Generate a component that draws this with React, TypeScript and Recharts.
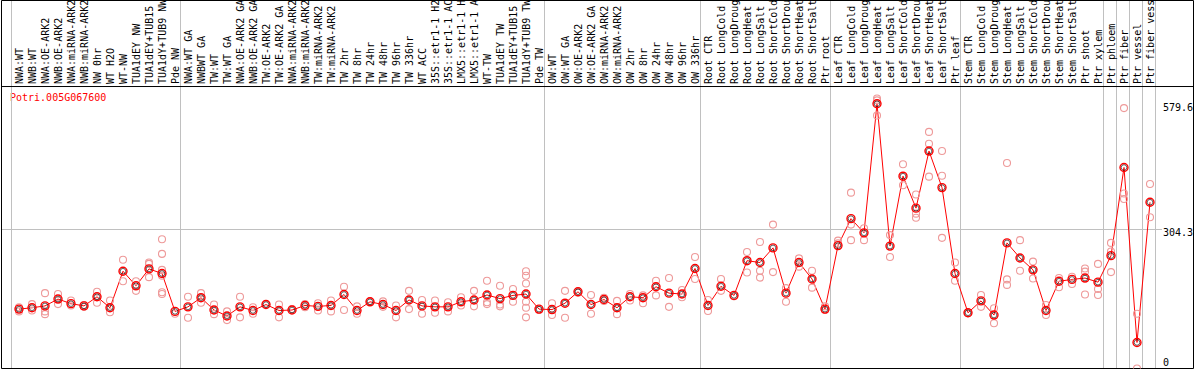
import { ComposedChart, Line, Scatter, XAxis, YAxis, ReferenceLine } from 'recharts'

const MONO = '"DejaVu Sans Mono", "Liberation Mono", monospace'

const GENE = 'Potri.005G067600'

const LABELS = [
  'NWA:WT', 'NWB:WT', 'NWA:OE-ARK2', 'NWB:OE-ARK2', 'NWA:miRNA-ARK2', 'NWB:miRNA-ARK2',
  'NW 0hr', 'WT H2O', 'WT-NW', 'TUA1dEY NW', 'TUA1dEY+TUB15 NW', 'TUA1dY+TUB9 NW', 'Pde NW',
  'NWA:WT GA', 'NWBWT GA', 'TW:WT', 'TW:WT GA', 'NWA:OE-ARK2 GA', 'NWB:OE-ARK2 GA',
  'TW:OE-ARK2', 'TW:OE-ARK2 GA', 'NWA:miRNA-ARK2 GA', 'NWB:miRNA-ARK2 GA', 'TW:miRNA-ARK2',
  'TW:miRNA-ARK2 GA', 'TW 2hr', 'TW 8hr', 'TW 24hr', 'TW 48hr', 'TW 96hr', 'TW 336hr',
  'WT ACC', '35S::etr1-1 H2O', '35S::etr1-1 ACC', 'LMX5::etr1-1 H2O', 'LMX5::etr1-1 ACC',
  'WT-TW', 'TUA1dEY TW', 'TUA1dEY+TUB15 TW', 'TUA1dY+TUB9 TW', 'Pde TW',
  'OW:WT', 'OW:WT GA', 'OW:OE-ARK2', 'OW:OE-ARK2 GA', 'OW:miRNA-ARK2', 'OW:miRNA-ARK2 GA',
  'OW 2hr', 'OW 8hr', 'OW 24hr', 'OW 48hr', 'OW 96hr', 'OW 336hr',
  'Root CTR', 'Root LongCold', 'Root LongDrought', 'Root LongHeat', 'Root LongSalt',
  'Root ShortCold', 'Root ShortDrought', 'Root ShortHeat', 'Root ShortSalt', 'Ptr root',
  'Leaf CTR', 'Leaf LongCold', 'Leaf LongDrought', 'Leaf LongHeat', 'Leaf LongSalt',
  'Leaf ShortCold', 'Leaf ShortDrought', 'Leaf ShortHeat', 'Leaf ShortSalt', 'Ptr leaf',
  'Stem CTR', 'Stem LongCold', 'Stem LongDrought', 'Stem LongHeat', 'Stem LongSalt',
  'Stem ShortCold', 'Stem ShortDrought', 'Stem ShortHeat', 'Stem ShortSalt', 'Ptr shoot',
  'Ptr xylem', 'Ptr phloem', 'Ptr fiber', 'Ptr vessel', 'Ptr fiber vessel',
]

const MEANS = [
  130, 133, 137, 152, 142, 137, 157, 133, 213, 181, 218, 208, 125,
  135, 155, 128, 115, 135, 127, 140, 127, 128, 138, 136, 138, 162, 127, 146, 140, 127,
  150, 137, 135, 135, 146, 150, 161, 153, 160, 163, 130,
  129, 143, 168, 140, 151, 133, 157, 155, 179, 165, 163, 219,
  138, 180, 160, 236, 232, 264, 165, 232, 196, 130,
  269, 328, 297, 579.6, 268, 421, 351, 476, 396, 208,
  122, 148, 117, 275, 242, 216, 127, 191, 195, 198, 189,
  247, 440, 57, 364,
]

// replicate samples per condition
const REPS = [
  [125, 134], [141, 127], [165, 125, 119], [163, 141], [149, 138], [139, 135], [168, 144],
  [149, 123], [238, 191], [191, 170], [232, 229, 200], [283, 251, 216, 203, 167, 163], [120],
  [157, 111], [165, 144], [140, 119], [125, 106], [157, 112], [134, 120], [141], [140, 112],
  [130], [141, 134], [143, 127], [149, 125], [179, 128], [136, 120], [147], [147, 135],
  [138, 112], [170, 130], [150, 120], [149, 122], [145, 125], [156, 138], [170, 136],
  [192, 145, 141], [181, 140, 136], [174, 146], [213, 203, 186, 146, 133, 112], [128],
  [143, 117], [170, 111], [166], [161, 120], [155, 148], [148, 119], [163, 149], [160, 143],
  [192, 160], [198, 135], [172, 156], [244, 196],
  [150, 126], [196, 170], [158], [255, 210], [277, 214, 199], [315, 211], [176, 146],
  [241, 223], [214, 177], [136, 128],
  [280, 274], [385, 315, 281], [307, 281], [591, 587, 554], [292, 244], [447, 401],
  [381, 339, 330], [518, 492, 420], [476, 422, 286], [232, 192],
  [121], [161, 135], [132, 99], [450, 195, 183], [281, 214], [234, 197], [139, 117],
  [198, 178], [201, 185], [219, 212, 162], [229, 174, 161],
  [275, 256, 211], [570, 383, 371], [120, 0], [404, 331],
]

const Y_TICKS = [0, 304.3, 579.6]

// last column of each block (-1 = left edge of first block)
const BLOCK_ENDS = [-1, 12, 40, 52, 62, 72, 83, 84, 85, 86, 87]

const X_DOMAIN: [number, number] = [-1.34615, 90.34615]
const Y_MAX = 805.6
const HEADER_Y = 617.3

const meanRows = MEANS.map((v, i) => ({ x: i, v }))
const repRows = REPS.flatMap((vals, i) => vals.map((v) => ({ x: i, v })))

const HeaderTick = (props: any) => {
  const { x, payload } = props
  const bx = x + 4
  return (
    <text
      x={bx}
      y={84}
      transform={`rotate(-90 ${bx} 84)`}
      fontSize={10}
      fontFamily={MONO}
      fill="#000"
    >
      {LABELS[payload.value]}
    </text>
  )
}

const ValueTick = (props: any) => {
  const { y, payload } = props
  const v = payload.value as number
  return (
    <text x={1163} y={v === 0 ? y - 2.5 : y + 7} fontSize={10} fontFamily={MONO} fill="#000">
      {v === 0 ? '0' : v.toFixed(1)}
    </text>
  )
}

const MeanDot = (props: any) => {
  const { cx, cy, index } = props
  if (cx == null || cy == null) return <g key={index} />
  return (
    <g key={index}>
      <circle cx={cx} cy={cy} r={4} fill="none" stroke="#ff0000" strokeWidth={1.4} />
      <circle cx={cx} cy={cy} r={2.8} fill="none" stroke="#000" strokeWidth={0.6} />
    </g>
  )
}

const RepDot = (props: any) => {
  const { cx, cy } = props
  return <circle cx={cx} cy={cy} r={3.5} fill="none" stroke="#ee9a9a" strokeWidth={1.1} />
}

export default function App() {
  return (
    <div style={{ position: 'absolute', left: 0, top: 0, width: 1194, height: 370, background: '#fff' }}>
      <ComposedChart
        width={1194}
        height={370}
        data={meanRows}
        margin={{ top: -0.5, right: -0.5, bottom: 1.5, left: 1.5 }}
      >
        <XAxis
          dataKey="x"
          type="number"
          orientation="top"
          domain={X_DOMAIN}
          allowDataOverflow
          ticks={LABELS.map((_, i) => i)}
          interval={0}
          height={1}
          axisLine={false}
          tickLine={false}
          tick={HeaderTick}
        />
        <YAxis
          type="number"
          orientation="right"
          domain={[0, Y_MAX]}
          allowDataOverflow
          ticks={Y_TICKS}
          interval={0}
          width={1}
          axisLine={false}
          tickLine={false}
          tick={ValueTick}
        />
        {BLOCK_ENDS.map((k) => (
          <ReferenceLine key={k} x={k + 0.423} stroke="#c0c0c0" strokeWidth={1} ifOverflow="visible" />
        ))}
        <ReferenceLine
          segment={[{ x: X_DOMAIN[0], y: 304.3 }, { x: 87.92, y: 304.3 }]}
          stroke="#c0c0c0"
          strokeWidth={1}
          ifOverflow="visible"
        />
        <ReferenceLine y={HEADER_Y} stroke="#000" strokeWidth={1} ifOverflow="visible" />
        <ReferenceLine y={0} stroke="#000" strokeWidth={1} ifOverflow="visible" />
        <ReferenceLine y={Y_MAX} stroke="#000" strokeWidth={1} ifOverflow="visible" />
        <ReferenceLine x={X_DOMAIN[0]} stroke="#000" strokeWidth={1} ifOverflow="visible" />
        <ReferenceLine x={X_DOMAIN[1]} stroke="#000" strokeWidth={1} ifOverflow="visible" />
        <Scatter data={repRows} dataKey="v" shape={RepDot} isAnimationActive={false} />
        <Line
          type="linear"
          dataKey="v"
          stroke="#ff0000"
          strokeWidth={1}
          dot={MeanDot}
          activeDot={false}
          isAnimationActive={false}
        />
        <text x={10} y={101} fontSize={10} fontFamily={MONO} fill="#ff0000">
          {GENE}
        </text>
      </ComposedChart>
    </div>
  )
}
